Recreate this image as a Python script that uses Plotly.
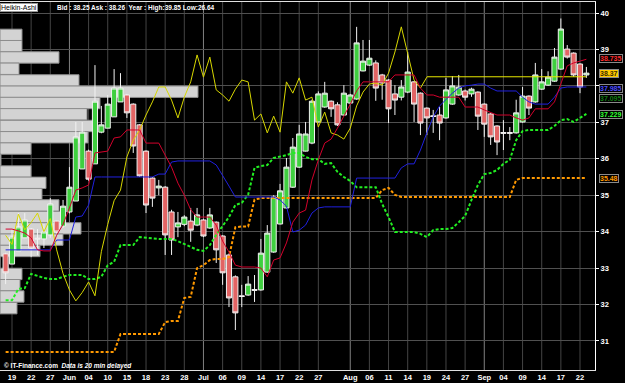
import plotly.graph_objects as go

# ---------------- data ----------------
candle_idx = list(range(-1, 91))
opens = [33.39, 33.11, 33.47, 33.83, 34.07, 33.82, 33.80, 33.91, 34.29, 34.15,
         34.54, 34.84, 35.72, 36.21, 35.86, 36.73, 36.84, 37.15, 37.56, 37.75,
         37.50, 36.93, 36.21, 35.47, 35.20, 35.22, 34.54, 34.13, 34.20, 34.29,
         34.18, 34.32, 34.10, 34.26, 33.88, 33.36, 32.76, 32.24, 32.26, 32.41,
         32.40, 32.89, 33.44, 34.21, 34.65, 35.22, 35.77, 36.21, 36.43, 37.01,
         37.42, 37.58, 37.48, 37.20, 37.53, 37.64, 38.41, 38.57, 38.63, 38.30,
         38.16, 37.78, 37.69, 37.83, 38.11, 37.80, 37.39, 37.18, 37.20, 37.12,
         37.50, 37.75, 37.86, 37.78, 37.83, 37.50, 37.23, 36.90, 36.72, 36.72,
         36.71, 37.01, 37.72, 37.56, 37.91, 38.02, 38.13, 38.46, 39.01, 38.90,
         38.60, 38.30]
highs = [33.42, 34.07, 34.51, 34.51, 34.10, 34.07, 34.21, 34.92, 34.30, 34.87,
         35.77, 37.01, 37.01, 36.25, 38.57, 37.45, 37.75, 38.46, 38.35, 37.78,
         37.52, 36.95, 36.23, 35.50, 35.42, 35.25, 34.60, 34.54, 34.45, 34.65,
         34.65, 34.35, 34.65, 34.28, 33.90, 33.40, 32.80, 32.54, 32.78, 32.81,
         33.80, 34.18, 35.00, 35.31, 36.02, 36.57, 36.93, 37.01, 37.62, 37.85,
         38.11, 37.60, 37.55, 38.02, 37.78, 39.62, 39.26, 39.26, 38.70, 38.33,
         38.18, 38.02, 38.16, 38.93, 38.13, 37.82, 37.41, 37.34, 37.42, 38.22,
         38.27, 38.30, 37.90, 37.95, 37.85, 37.52, 37.25, 36.92, 37.06, 36.87,
         37.62, 37.97, 37.74, 38.63, 38.46, 38.40, 39.04, 39.85, 39.12, 38.92,
         38.62, 38.52]
lows = [32.56, 33.11, 33.47, 33.83, 33.30, 33.36, 33.55, 33.83, 33.95, 34.10,
        34.50, 34.84, 35.72, 35.40, 35.86, 36.70, 36.84, 37.15, 37.56, 37.12,
        36.16, 35.50, 34.51, 34.68, 35.00, 33.36, 33.36, 33.85, 34.15, 33.72,
        34.15, 33.85, 34.08, 33.14, 32.54, 31.93, 31.30, 31.93, 32.24, 32.07,
        32.38, 32.87, 33.42, 34.20, 34.63, 35.20, 35.75, 36.20, 36.40, 37.00,
        37.40, 37.15, 36.90, 37.18, 37.50, 37.62, 38.40, 38.55, 37.59, 37.62,
        36.98, 37.20, 37.60, 37.80, 37.01, 36.65, 36.65, 36.71, 36.51, 37.10,
        37.48, 37.73, 37.60, 37.70, 36.79, 36.60, 36.38, 36.10, 36.24, 36.51,
        36.69, 36.99, 37.20, 37.54, 37.89, 38.00, 38.11, 38.44, 38.75, 38.25,
        37.80, 38.22]
closes = [32.87, 33.85, 34.13, 34.32, 33.55, 33.80, 33.99, 34.76, 33.99, 34.70,
          35.22, 36.60, 36.73, 35.44, 37.58, 36.93, 37.50, 37.94, 37.94, 37.26,
          36.35, 35.53, 34.73, 34.92, 35.25, 33.91, 33.77, 34.24, 34.40, 34.04,
          34.46, 33.88, 34.46, 33.50, 32.87, 32.18, 31.77, 32.22, 32.56, 32.39,
          33.41, 33.96, 34.95, 35.12, 35.77, 36.32, 36.68, 36.68, 37.58, 37.78,
          37.80, 37.37, 36.93, 37.80, 37.75, 39.18, 38.68, 38.76, 37.94, 38.08,
          37.37, 37.61, 37.97, 38.38, 37.50, 36.98, 37.12, 37.16, 36.98, 37.89,
          38.00, 37.97, 37.69, 37.91, 37.17, 36.95, 36.60, 36.46, 36.70, 36.70,
          37.26, 37.72, 37.39, 38.30, 38.11, 38.24, 38.79, 39.56, 38.79, 38.30,
          37.97, 38.35]

tenkan = [34.07, 34.07, 34.02, 33.96, 33.83, 33.50, 33.47, 33.47, 33.90, 34.20,
          34.65, 35.14, 35.20, 35.28, 36.16, 36.19, 36.21, 36.57, 36.60, 36.79,
          36.79, 36.79, 36.43, 36.43, 36.43, 36.10, 35.77, 35.33, 35.00, 34.60,
          34.40, 34.40, 34.40, 34.18, 33.74, 33.44, 33.08, 33.03, 33.03, 33.03,
          33.00, 32.76, 33.22, 33.28, 33.69, 34.26, 34.51, 34.59, 35.42, 35.97,
          36.43, 36.54, 36.84, 37.15, 37.50, 37.86, 38.11, 38.11, 38.11, 38.11,
          38.11, 38.30, 38.30, 38.30, 38.30, 37.94, 37.75, 37.75, 37.69, 37.69,
          37.69, 37.69, 37.42, 37.42, 37.42, 37.34, 37.26, 37.20, 37.20, 37.20,
          37.12, 37.06, 37.12, 37.37, 37.37, 37.37, 37.56, 38.05, 38.55, 38.63,
          38.68, 38.73]
kijun = [33.50, 33.50, 33.50, 33.50, 33.50, 33.50, 33.50, 33.50, 33.77, 33.77,
         33.77, 34.40, 34.43, 34.73, 35.50, 35.50, 35.50, 35.50, 35.50, 35.50,
         35.50, 35.50, 35.50, 35.50, 35.58, 35.58, 35.91, 35.94, 35.94, 35.94,
         35.94, 35.94, 35.94, 35.83, 35.55, 35.25, 34.95, 34.95, 34.95, 34.95,
         34.95, 34.95, 34.95, 34.87, 34.70, 33.99, 34.04, 34.18, 34.51, 34.65,
         34.68, 34.68, 34.68, 34.68, 34.68, 35.47, 35.47, 35.47, 35.47, 35.47,
         35.47, 35.47, 35.75, 35.86, 35.86, 36.24, 36.71, 37.15, 37.45, 37.64,
         37.80, 37.94, 38.00, 38.02, 38.05, 38.05, 37.94, 37.86, 37.86, 37.86,
         37.86, 37.69, 37.56, 37.50, 37.50, 37.50, 37.69, 37.94, 37.97, 37.97,
         37.97, 37.97]
chikou_idx = list(range(-1, 66))
chikou = [33.90, 33.65, 34.48, 34.05, 34.25, 34.51, 34.00, 34.36, 33.50, 32.85,
          32.40, 32.10, 32.33, 32.62, 32.24, 33.45, 34.20, 34.85, 35.14, 36.05,
          36.51, 36.79, 37.20, 37.56, 37.97, 37.97, 37.61, 37.12, 37.69, 38.11,
          38.85, 38.24, 38.79, 37.89, 37.75, 37.58, 37.91, 38.16, 38.11, 37.06,
          37.23, 36.71, 37.17, 36.73, 38.11, 37.80, 38.22, 37.61, 37.69, 36.87,
          37.28, 36.71, 36.65, 36.54, 36.84, 37.45, 37.83, 38.05, 38.08, 38.02,
          38.35, 38.93, 39.62, 38.85, 38.16, 37.94, 38.24]
senkou_a = [32.12, 32.12, 32.43, 32.45, 32.84, 32.78, 32.73, 32.70, 32.70, 32.76,
            32.81, 32.81, 32.81, 32.70, 32.70, 32.76, 33.08, 33.17, 33.63, 33.63,
            33.63, 33.85, 33.83, 33.80, 33.80, 33.80, 33.80, 33.74, 33.66, 33.58,
            33.50, 33.47, 33.63, 33.91, 34.15, 34.40, 34.73, 34.79, 35.01, 35.75,
            35.80, 35.83, 36.02, 36.05, 36.10, 36.16, 36.16, 36.05, 35.99, 35.99,
            35.86, 35.88, 35.64, 35.50, 35.39, 35.22, 35.22, 35.22, 35.22, 34.76,
            34.40, 33.99, 33.99, 33.99, 33.99, 33.94, 33.85, 34.04, 34.07, 34.07,
            34.10, 34.26, 34.43, 34.87, 35.28, 35.58, 35.61, 35.69, 35.86, 35.97,
            36.51, 36.76, 36.79, 36.79, 36.79, 36.79, 36.90, 37.06, 37.09, 37.01,
            37.12, 37.23]
senkou_b = [30.70, 30.70, 30.70, 30.70, 30.70, 30.70, 30.70, 30.70, 30.70, 30.70,
            30.70, 30.70, 30.70, 30.70, 30.70, 30.70, 30.70, 30.70, 31.19, 31.19,
            31.19, 31.19, 31.19, 31.19, 31.19, 31.52, 31.55, 31.55, 32.18, 32.21,
            33.00, 33.08, 33.22, 33.25, 33.25, 33.30, 34.12, 34.14, 34.14, 34.88,
            34.92, 34.92, 34.92, 34.92, 34.92, 34.92, 34.92, 34.92, 34.92, 34.92,
            34.92, 34.92, 34.92, 34.92, 34.92, 34.92, 34.92, 34.92, 34.92, 35.14,
            35.20, 35.01, 34.95, 34.95, 34.95, 34.95, 34.95, 34.95, 34.95, 34.95,
            34.95, 34.95, 34.95, 34.95, 34.95, 34.95, 34.95, 34.95, 34.95, 34.95,
            35.42, 35.47, 35.47, 35.47, 35.47, 35.47, 35.47, 35.47, 35.47, 35.47,
            35.47, 35.47]

bid = 38.25
price_line_idx = [65, 90]

# volume-by-price profile
vp_price = [39.40, 39.09, 38.78, 38.47, 38.15, 37.84, 37.53, 37.22, 36.90, 36.59,
            36.28, 35.97, 35.65, 35.34, 35.03, 34.72, 34.40, 34.09, 33.78, 33.47,
            33.15, 32.84, 32.53, 32.22, 31.90]
vp_volume = [22, 22, 59, 19, 79, 198, 100, 87, 93, 88,
             31, 1, 31, 46, 42, 59, 63, 81, 63, 40,
             0, 22, 20, 24, 17]
vp_bin = 0.3125

tick_idx = [0, 3, 6, 9, 12, 15, 18, 21, 24, 27, 30, 33, 36, 39, 42, 45, 48,
            53, 56, 59, 62, 65, 68, 71, 74, 77, 80, 83, 86, 89]
tick_text = ["19", "22", "27", "Jun", "04", "10", "15", "18", "23", "28", "Jul",
             "06", "09", "14", "17", "22", "27", "Aug", "06", "11", "14", "19",
             "24", "27", "Sep", "04", "09", "14", "17", "22"]
month_labels = ["Jun", "Jul", "Aug", "Sep"]

price_ticks = [31, 32, 33, 34, 35, 36, 37, 38, 39, 40]
price_tick_text = ["31", "32", "33", "34", "35", "36", "37", "", "39", "40"]

label_texts = ["38.735", "38.37", "37.985", "37.095", "37.229", "35.48"]
label_y = [38.74, 38.35, 37.94, 37.66, 37.21, 35.47]
label_fg = ["#ff2b2b", "#3a2a00", "#4a4aff", "#127a12", "#33ff33", "#ff9900"]
label_bg = ["black", "#ffcc00", "black", "black", "black", "black"]

# ---------------- figure ----------------
fig = go.Figure()

fig.add_trace(go.Bar(
    y=vp_price, x=vp_volume, orientation="h", width=vp_bin,
    xaxis="x", yaxis="y",
    marker=dict(color="#d3d3d3", line=dict(color="#8c8c8c", width=1)),
    hoverinfo="skip"))

fig.add_trace(go.Candlestick(
    x=candle_idx, open=opens, high=highs, low=lows, close=closes,
    xaxis="x2", yaxis="y", whiskerwidth=0,
    increasing=dict(line=dict(color="#f2f2f2", width=1), fillcolor="#3fcf3f"),
    decreasing=dict(line=dict(color="#f2f2f2", width=1), fillcolor="#e26464"),
    hoverinfo="skip"))

fig.add_trace(go.Scatter(x=candle_idx, y=senkou_b, xaxis="x2", yaxis="y", mode="lines",
                         line=dict(color="#ff9900", width=2, dash="3px,2px")))
fig.add_trace(go.Scatter(x=candle_idx, y=senkou_a, xaxis="x2", yaxis="y", mode="lines",
                         line=dict(color="#22ee22", width=2, dash="3px,2px")))
fig.add_trace(go.Scatter(x=candle_idx, y=kijun, xaxis="x2", yaxis="y", mode="lines",
                         line=dict(color="#2020e0", width=1)))
fig.add_trace(go.Scatter(x=chikou_idx, y=chikou, xaxis="x2", yaxis="y", mode="lines",
                         line=dict(color="#d8d800", width=1)))
fig.add_trace(go.Scatter(x=price_line_idx, y=[bid, bid], xaxis="x2", yaxis="y", mode="lines",
                         line=dict(color="#e8e800", width=1)))
fig.add_trace(go.Scatter(x=candle_idx, y=tenkan, xaxis="x2", yaxis="y", mode="lines",
                         line=dict(color="#d4002c", width=1)))

# vertical grid lines (drawn below the volume bars)
shapes = []
for t, lab in zip(tick_idx, tick_text):
    col = "#808080" if lab in month_labels else "#444444"
    shapes.append(dict(type="line", xref="x2", yref="paper", x0=t, x1=t, y0=0, y1=1,
                       line=dict(color=col, width=1), layer="below"))

annotations = []
for txt, yv, fg, bg in zip(label_texts, label_y, label_fg, label_bg):
    annotations.append(dict(
        xref="paper", yref="y", x=1.006, y=yv, xanchor="left", yanchor="middle",
        text=txt, showarrow=False, bgcolor=bg, bordercolor="#8a8a8a", borderwidth=1,
        borderpad=0, font=dict(color=fg, size=7, family="Liberation Sans", weight="bold")))

annotations.append(dict(
    xref="paper", yref="paper", x=0.0, y=0.985, xanchor="left", yanchor="middle",
    text="Heikin-Ashi", showarrow=False, bgcolor="white", bordercolor="#999999",
    borderwidth=1, borderpad=0,
    font=dict(color="black", size=7, family="Liberation Sans")))
annotations.append(dict(
    xref="paper", yref="paper", x=0.092, y=0.985, xanchor="left", yanchor="middle",
    text="<b>Bid : 38.25 Ask : 38.26  Year : High:39.85 Low:26.64</b>", showarrow=False,
    font=dict(color="white", size=6.5, family="Liberation Sans")))
annotations.append(dict(
    xref="paper", yref="paper", x=0.003, y=0.011, xanchor="left", yanchor="middle",
    text="<b>© IT-Finance.com</b>  <b><i>Data is 20 min delayed</i></b>", showarrow=False,
    font=dict(color="white", size=6.5, family="Liberation Sans")))

fig.update_layout(
    width=625, height=383,
    margin=dict(l=0, r=30, t=2, b=13),
    paper_bgcolor="black", plot_bgcolor="black",
    showlegend=False,
    boxgap=0.2, boxgroupgap=0,
    xaxis=dict(range=[0, 595], visible=False, fixedrange=True),
    xaxis2=dict(overlaying="x", anchor="y", side="bottom",
                range=[-1.88, 91.35], tickvals=tick_idx, ticktext=tick_text,
                showgrid=False, ticks="", zeroline=False,
                tickfont=dict(color="white", size=7.5, family="Liberation Sans", weight="bold"),
                showline=True, linecolor="#e0e0e0", linewidth=1, mirror=True,
                rangeslider=dict(visible=False)),
    yaxis=dict(side="right", range=[30.203, 40.302], tickvals=price_ticks,
               ticktext=price_tick_text,
               showgrid=True, gridcolor="#505050", gridwidth=1, zeroline=False,
               ticks="outside", ticklen=3, tickcolor="white",
               tickfont=dict(color="white", size=7.5, family="Liberation Sans", weight="bold"),
               showline=True, linecolor="white", linewidth=1),
    shapes=shapes,
    annotations=annotations,
)

fig.write_html("out.html")
